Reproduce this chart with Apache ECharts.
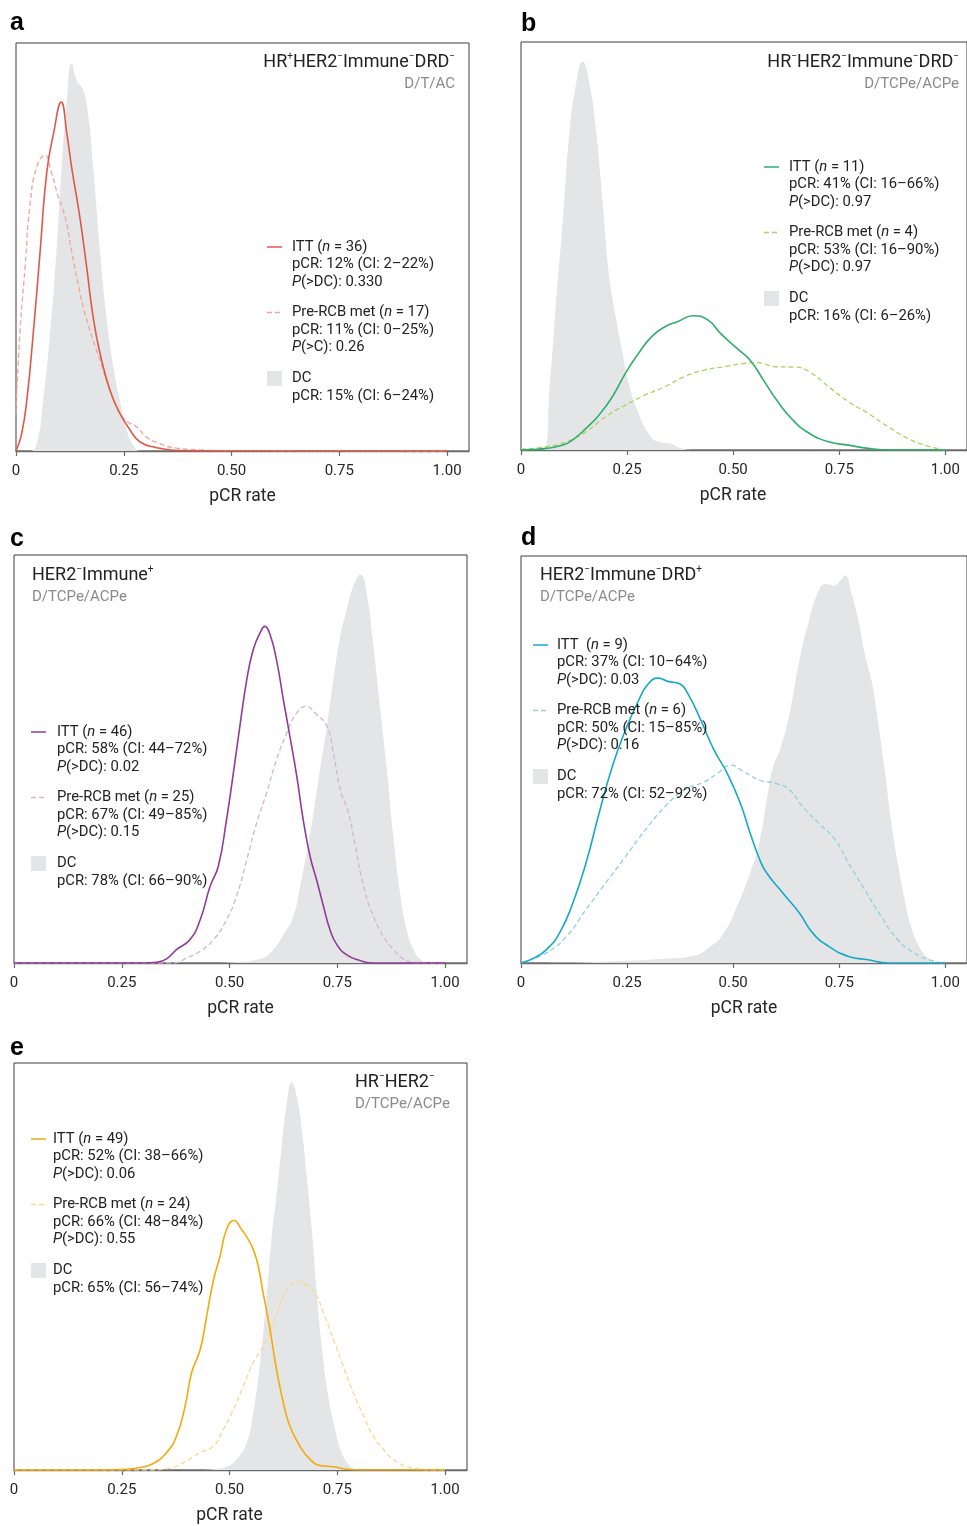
<!DOCTYPE html>
<html>
<head>
<meta charset="utf-8">
<script src="https://cdn.jsdelivr.net/npm/echarts@6/dist/echarts.min.js"></script>
<style>
html,body{margin:0;padding:0;background:#fff;}
#chart{width:967px;height:1526px;}
</style>
</head>
<body>
<div id="chart"></div>
<script>
// ---- Data: [pCR rate, relative density (% of panel height)] ----
// Panel a
const aDC = [[0,0],[0.032,0],[0.048,1.8],[0.063,12.4],[0.079,28.8],[0.094,49],[0.106,69.6],[0.118,86],[0.129,95],[0.141,90.8],[0.156,88.4],[0.168,81.9],[0.179,69.6],[0.195,49],[0.21,32.8],[0.226,20.6],[0.241,12.4],[0.257,5],[0.272,1.4],[0.288,0],[1,0]];
const aITT = [[0,0],[0.013,4.2],[0.025,12.4],[0.04,28.8],[0.056,49],[0.071,68],[0.087,77.8],[0.105,85.5],[0.118,77.8],[0.129,69.6],[0.148,57.4],[0.164,45],[0.179,32.8],[0.195,23.9],[0.218,14.9],[0.241,9.2],[0.265,5.1],[0.288,2.2],[0.326,0.8],[0.365,0.2],[0.45,0],[1,0]];
const aPRE = [[0,9.2],[0.009,28.8],[0.021,45],[0.032,59.8],[0.048,69.6],[0.067,72.5],[0.083,68],[0.098,62.3],[0.114,57.4],[0.129,49],[0.144,41],[0.16,33.7],[0.179,27.1],[0.195,22.2],[0.218,14.9],[0.241,9.2],[0.26,7.1],[0.28,5.9],[0.303,3.4],[0.334,1.8],[0.373,0.7],[0.427,0.3],[0.5,0.1],[1,0]];
// Panel b
const bDC = [[0,0],[0.052,0],[0.068,16.3],[0.083,36.8],[0.099,57],[0.114,77.6],[0.13,89.9],[0.145,95.2],[0.161,89.9],[0.176,79.2],[0.192,61.3],[0.207,43.3],[0.223,32.7],[0.238,24.5],[0.254,16.3],[0.277,9],[0.3,4.1],[0.323,2],[0.354,1.5],[0.377,0.4],[0.4,0],[1,0]];
const bITT = [[0,0],[0.06,0.4],[0.099,1.2],[0.122,2.5],[0.153,5.3],[0.184,8.6],[0.215,13],[0.246,18.8],[0.277,23.7],[0.308,27.8],[0.339,30.2],[0.37,31.5],[0.405,32.9],[0.44,31.9],[0.47,28.6],[0.509,24.9],[0.54,22],[0.571,17.2],[0.602,12.3],[0.64,7.4],[0.679,4.1],[0.725,2],[0.772,1.2],[0.818,0.4],[0.872,0],[1,0]];
const bPRE = [[0,0.2],[0.06,0.8],[0.107,2],[0.153,4.5],[0.2,8.2],[0.246,11],[0.293,13.5],[0.339,15.5],[0.385,18],[0.432,19.6],[0.478,20.4],[0.524,21.2],[0.555,21.4],[0.602,20.4],[0.648,20.3],[0.679,19.2],[0.725,15.5],[0.772,11.8],[0.818,9],[0.865,5.7],[0.911,2.9],[0.957,1],[1,0]];
// Panel c
const cDC = [[0,0],[0.45,0],[0.509,0.2],[0.571,1],[0.602,3.3],[0.625,6.9],[0.648,11.4],[0.664,18.8],[0.679,27],[0.695,36.8],[0.71,47.4],[0.726,58],[0.741,69.4],[0.757,80],[0.772,86.6],[0.787,92.3],[0.804,95.2],[0.818,90.7],[0.834,77.6],[0.849,62.9],[0.865,47.4],[0.88,31],[0.896,17],[0.911,8.2],[0.927,3.3],[0.942,1],[0.965,0],[1,0]];
const cITT = [[0,0],[0.3,0],[0.331,0.2],[0.354,1],[0.377,3.3],[0.408,5.7],[0.432,10.6],[0.455,18.8],[0.474,23.7],[0.493,35.1],[0.509,46.6],[0.524,58],[0.54,69.4],[0.555,76.8],[0.571,80.9],[0.582,82.5],[0.594,80.5],[0.609,74.3],[0.625,64.5],[0.64,55.6],[0.656,45.8],[0.671,35.1],[0.687,26.1],[0.702,20.4],[0.718,13.9],[0.733,8.2],[0.749,4.5],[0.772,2],[0.803,0.6],[0.834,0],[1,0]];
const cPRE = [[0,0],[0.37,0],[0.4,1.2],[0.432,2.9],[0.463,5.7],[0.493,10.6],[0.516,16.3],[0.54,25.3],[0.563,34.3],[0.586,41.7],[0.609,49.8],[0.633,56.4],[0.656,61.3],[0.677,62.9],[0.702,60.9],[0.726,58],[0.741,51.5],[0.757,42.5],[0.776,36.8],[0.792,28.6],[0.811,18.8],[0.834,11.4],[0.857,6.5],[0.88,3.3],[0.903,1],[0.934,0],[1,0]];
// Panel d
const dDC = [[0,0],[0.06,0],[0.215,0.4],[0.331,1],[0.408,1.8],[0.447,4.1],[0.478,7.4],[0.509,13.9],[0.54,22.1],[0.563,30.2],[0.579,40],[0.594,48.2],[0.61,52.3],[0.633,61.3],[0.656,74.3],[0.679,84.2],[0.702,91.5],[0.718,93.1],[0.737,92.7],[0.753,94],[0.764,95.2],[0.779,90.7],[0.795,84.2],[0.81,76],[0.826,69.4],[0.841,59.6],[0.857,47.4],[0.872,35.1],[0.888,24.5],[0.903,16.3],[0.919,9],[0.942,3.3],[0.965,0.8],[0.988,0],[1,0]];
const dITT = [[0,0],[0.03,1.2],[0.06,3.3],[0.091,7.4],[0.122,14.7],[0.153,24.5],[0.184,36.8],[0.215,48.2],[0.246,57.2],[0.277,64.5],[0.3,68.6],[0.323,70],[0.346,69.2],[0.374,68.6],[0.393,66.2],[0.424,59.6],[0.455,52.3],[0.486,46.6],[0.517,39.2],[0.54,31.9],[0.563,25.3],[0.579,22.1],[0.617,17.2],[0.656,12.3],[0.687,7.4],[0.725,4.1],[0.772,1.6],[0.818,0.8],[0.865,0],[1,0]];
const dPRE = [[0,0],[0.06,2.5],[0.107,6.5],[0.153,13.1],[0.199,19.6],[0.246,26.1],[0.293,32.7],[0.339,38.4],[0.385,42.5],[0.432,44.5],[0.463,46.6],[0.494,48.6],[0.525,47],[0.563,44.9],[0.602,44.1],[0.633,42.5],[0.664,38.4],[0.702,34.3],[0.741,30.2],[0.772,24.5],[0.81,18],[0.849,11.4],[0.888,5.7],[0.926,2.5],[0.965,0.7],[1,0]];
// Panel e
const eDC = [[0,0],[0.42,0],[0.462,0.2],[0.493,0.8],[0.516,2.6],[0.54,6.7],[0.555,14.1],[0.571,26.4],[0.586,42.7],[0.598,57.4],[0.609,67.3],[0.621,79.5],[0.633,90.2],[0.644,95.3],[0.656,91.8],[0.668,83.6],[0.679,72.2],[0.691,59.1],[0.702,44.4],[0.714,30.4],[0.729,18.2],[0.745,10],[0.76,4.3],[0.78,1],[0.803,0],[1,0]];
const eITT = [[0,0],[0.2,0],[0.261,0.2],[0.292,0.6],[0.323,1.6],[0.354,4.3],[0.377,8.3],[0.397,15.7],[0.412,23.9],[0.432,29.6],[0.447,37.8],[0.463,46.8],[0.478,52.5],[0.493,59.1],[0.51,61.3],[0.528,59.1],[0.548,55.8],[0.563,51.7],[0.578,43.5],[0.594,34.5],[0.609,24.7],[0.625,16.5],[0.64,10.8],[0.663,5.9],[0.687,2.6],[0.71,1.1],[0.741,0.8],[0.772,0.2],[0.803,0],[1,0]];
const ePRE = [[0,0],[0.316,0],[0.354,0.3],[0.393,1.8],[0.432,4.3],[0.463,5.9],[0.486,10],[0.509,14.9],[0.532,20.6],[0.555,26.4],[0.578,30.4],[0.602,36.2],[0.625,42.7],[0.64,45.2],[0.656,46.4],[0.675,45.6],[0.698,43.5],[0.718,38.6],[0.741,32.1],[0.764,25.5],[0.787,19],[0.811,13.3],[0.834,8.3],[0.857,5.1],[0.88,2.6],[0.911,0.8],[0.943,0.2],[0.973,0],[1,0]];

// Tick labels
const tickValues = [0, 0.25, 0.5, 0.75, 1];
const tickLabels = ['0', '0.25', '0.50', '0.75', '1.00'];

// Subgroup titles: [text, superscript sign], regimen
const aTitle = [['HR','+'],['HER2','−'],['Immune','−'],['DRD','−']];
const bTitle = [['HR','−'],['HER2','−'],['Immune','−'],['DRD','−']];
const cTitle = [['HER2','−'],['Immune','+']];
const dTitle = [['HER2','−'],['Immune','−'],['DRD','+']];
const eTitle = [['HR','−'],['HER2','−']];
const aRegimen = 'D/T/AC';
const bRegimen = 'D/TCPe/ACPe';
const cRegimen = 'D/TCPe/ACPe';
const dRegimen = 'D/TCPe/ACPe';
const eRegimen = 'D/TCPe/ACPe';

// Legend statistics
const aStats = {itt:['ITT (', '36', '12% (CI: 2–22%)', '(>DC): 0.330'], pre:['17', '11% (CI: 0–25%)', '(>C): 0.26'], dc:'15% (CI: 6–24%)'};
const bStats = {itt:['ITT (', '11', '41% (CI: 16–66%)', '(>DC): 0.97'], pre:['4', '53% (CI: 16–90%)', '(>DC): 0.97'], dc:'16% (CI: 6–26%)'};
const cStats = {itt:['ITT (', '46', '58% (CI: 44–72%)', '(>DC): 0.02'], pre:['25', '67% (CI: 49–85%)', '(>DC): 0.15'], dc:'78% (CI: 66–90%)'};
const dStats = {itt:['ITT  (', '9', '37% (CI: 10–64%)', '(>DC): 0.03'], pre:['6', '50% (CI: 15–85%)', '(>DC): 0.16'], dc:'72% (CI: 52–92%)'};
const eStats = {itt:['ITT (', '49', '52% (CI: 38–66%)', '(>DC): 0.06'], pre:['24', '66% (CI: 48–84%)', '(>DC): 0.55'], dc:'65% (CI: 56–74%)'};

// ---- Layout / style ----
const FONT = 'Roboto, "Noto Sans", sans-serif';
const GRAY = '#e4e5e7';
const panels = [
  {letter:'a', lx:10, ly:23, grid:{left:16, top:43, width:453, height:408}, dc:aDC, itt:aITT, pre:aPRE,
   c1:'#e0574a', c2:'#f2a594', title:aTitle, reg:aRegimen, tAlign:'right', tx:455, ty:62,
   stats:aStats, legX:267, legY:247, nameShift:0},
  {letter:'b', lx:521, ly:24, grid:{left:521, top:42, width:453, height:408}, dc:bDC, itt:bITT, pre:bPRE,
   c1:'#2fae6e', c2:'#a8d45e', title:bTitle, reg:bRegimen, tAlign:'right', tx:959, ty:62,
   stats:bStats, legX:764, legY:167, nameShift:22},
  {letter:'c', lx:10, ly:539, grid:{left:14, top:555, width:453, height:408}, dc:cDC, itt:cITT, pre:cPRE,
   c1:'#8f3c98', c2:'#d6b2db', title:cTitle, reg:cRegimen, tAlign:'left', tx:32, ty:575,
   stats:cStats, legX:31, legY:732, nameShift:0},
  {letter:'d', lx:521, ly:538, grid:{left:521, top:556, width:453, height:407}, dc:dDC, itt:dITT, pre:dPRE,
   c1:'#16a9c6', c2:'#8fd0e0', title:dTitle, reg:dRegimen, tAlign:'left', tx:540, ty:575,
   stats:dStats, legX:533, legY:645, nameShift:0},
  {letter:'e', lx:10, ly:1048, grid:{left:14, top:1063, width:453, height:408}, dc:eDC, itt:eITT, pre:ePRE,
   c1:'#f3aa0c', c2:'#fbd78c', title:eTitle, reg:eRegimen, tAlign:'left', tx:355, ty:1082,
   stats:eStats, legX:31, legY:1139, nameShift:22}
];
const legTextDx = {a:25, b:25, c:26, d:24, e:22};

const grids = [], xAxes = [], yAxes = [], series = [], graphics = [];
const rich = {
  t:{fontSize:18, fontFamily:FONT, fill:'#222', color:'#222', lineHeight:22},
  s:{fontSize:10, fontFamily:FONT, fill:'#222', color:'#222', verticalAlign:'top', lineHeight:22, padding:[0,0,9,0]},
  r:{fontSize:14.8, fontFamily:FONT, fill:'#222', color:'#222'},
  i:{fontSize:14.8, fontFamily:FONT, fill:'#222', color:'#222', fontStyle:'italic'}
};

panels.forEach((p, i) => {
  grids.push(Object.assign({show:true, borderColor:'#3c3c3c', borderWidth:1, backgroundColor:'transparent'}, p.grid));
  xAxes.push({
    gridIndex:i, type:'value', min:0, max:1.051,
    axisLine:{show:true, onZero:false, lineStyle:{color:'#6a6a6a', width:1.4}},
    axisTick:{show:true, length:5, customValues:tickValues, lineStyle:{color:'#6a6a6a', width:1.2}},
    axisLabel:{customValues:tickValues, fontSize:15, fontFamily:FONT, color:'#262626', margin:13,
      formatter:(v) => tickLabels[tickValues.findIndex(t => Math.abs(t - v) < 1e-6)] || ''},
    splitLine:{show:false},
    name:'pCR rate', nameLocation:'middle', nameGap:37,
    nameTextStyle:{fontSize:17.5, fontFamily:FONT, color:'#262626', padding:[0, p.nameShift, 0, 0]}
  });
  yAxes.push({gridIndex:i, type:'value', min:0, max:100, show:false});
  series.push({
    type:'line', xAxisIndex:i, yAxisIndex:i, data:p.dc, symbol:'none', smooth:0.5,
    lineStyle:{width:0, color:GRAY}, areaStyle:{color:GRAY, opacity:1}, silent:true, z:1
  });
  series.push({
    type:'line', xAxisIndex:i, yAxisIndex:i, data:p.pre, symbol:'none', smooth:0.5,
    lineStyle:{width:1.3, color:p.c2, type:[5,3]}, silent:true, z:2
  });
  series.push({
    type:'line', xAxisIndex:i, yAxisIndex:i, data:p.itt, symbol:'none', smooth:0.5,
    lineStyle:{width:1.6, color:p.c1}, silent:true, z:3
  });

  graphics.push({type:'text', x:p.lx, y:p.ly, z:100,
    style:{text:p.letter, font:'bold 25px "Liberation Sans", Arial, sans-serif', fill:'#000', align:'left', verticalAlign:'middle'}});
  const ttxt = p.title.map(([b, s]) => '{t|' + b + '}{s|' + s + '}').join('');
  graphics.push({type:'text', x:p.tx, y:p.ty, z:100,
    style:{text:ttxt, rich:rich, align:p.tAlign, verticalAlign:'middle', fontFamily:FONT}});
  graphics.push({type:'text', x:p.tx, y:p.ty + 22.5, z:100,
    style:{text:p.reg, font:'15px ' + FONT, fill:'#8a8a8a', align:p.tAlign, verticalAlign:'middle'}});

  const st = p.stats, L = p.legX, Y = p.legY, tx = L + legTextDx[p.letter], dy = 17.6;
  graphics.push({type:'line', z:100, shape:{x1:L, y1:Y, x2:L + 15, y2:Y}, style:{stroke:p.c1, lineWidth:1.5}});
  const lines = [
    [Y, '{r|' + st.itt[0] + '}{i|n}{r| = ' + st.itt[1] + ')}'],
    [Y + dy, '{r|pCR: ' + st.itt[2] + '}'],
    [Y + 2 * dy, '{i|P}{r|' + st.itt[3] + '}'],
  ];
  const Y2 = Y + 65.5;
  graphics.push({type:'line', z:100, shape:{x1:L, y1:Y2, x2:L + 15, y2:Y2}, style:{stroke:p.c2, lineWidth:1.3, lineDash:[5,3]}});
  lines.push([Y2, '{r|Pre-RCB met (}{i|n}{r| = ' + st.pre[0] + ')}']);
  lines.push([Y2 + dy, '{r|pCR: ' + st.pre[1] + '}']);
  lines.push([Y2 + 2 * dy, '{i|P}{r|' + st.pre[2] + '}']);
  const Y3 = Y2 + 66;
  graphics.push({type:'rect', z:100, shape:{x:L, y:Y3 - 7.5, width:15, height:15}, style:{fill:GRAY}});
  lines.push([Y3, '{r|DC}']);
  lines.push([Y3 + dy, '{r|pCR: ' + st.dc + '}']);
  lines.forEach(([yy, txt]) => {
    graphics.push({type:'text', x:tx, y:yy, z:100,
      style:{text:txt, rich:rich, align:'left', verticalAlign:'middle', fontFamily:FONT}});
  });
});

const chart = echarts.init(document.getElementById('chart'), null, {renderer:'canvas'});
chart.setOption({
  animation:false,
  backgroundColor:'#fff',
  grid:grids, xAxis:xAxes, yAxis:yAxes, series:series,
  graphic:{elements:graphics}
});
</script>
</body>
</html>
